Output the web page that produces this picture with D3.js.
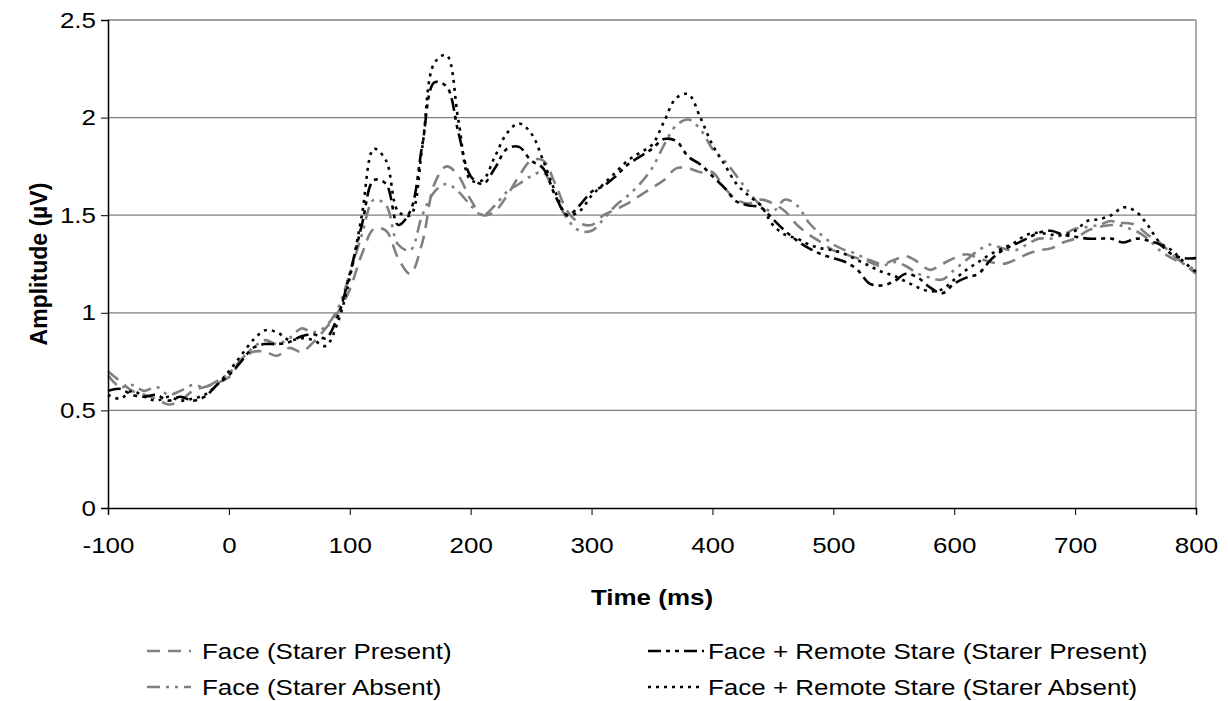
<html>
<script src='https://d3js.org/d3.v7.min.js'></script>
<style>
    body { margin: 0; background: #fff; }
    text { font-family: 'Liberation Sans', Arial, sans-serif; fill: #000; }
    .axis text { font-size: 22px; }
    .axis path, .axis line { stroke: #000; }
</style>

<body onload='init()'>
    <svg width=1228 height=701></svg>
    <script>
        // time in ms, one point every 10 ms
        const times = [-100, -90, -80, -70, -60, -50, -40, -30, -20, -10,
            0, 10, 20, 30, 40, 50, 60, 70, 80, 90,
            100, 110, 120, 130, 140, 150, 160, 170, 180, 190,
            200, 210, 220, 230, 240, 250, 260, 270, 280, 290,
            300, 310, 320, 330, 340, 350, 360, 370, 380, 390,
            400, 410, 420, 430, 440, 450, 460, 470, 480, 490,
            500, 510, 520, 530, 540, 550, 560, 570, 580, 590,
            600, 610, 620, 630, 640, 650, 660, 670, 680, 690,
            700, 710, 720, 730, 740, 750, 760, 770, 780, 790, 800];

        const facePresent = [0.70, 0.65, 0.60, 0.58, 0.56, 0.53, 0.55, 0.60, 0.62, 0.64,
            0.67, 0.75, 0.80, 0.80, 0.78, 0.82, 0.80, 0.85, 0.92, 1.00,
            1.12, 1.30, 1.43, 1.42, 1.28, 1.20, 1.36, 1.66, 1.75, 1.70,
            1.58, 1.50, 1.52, 1.60, 1.70, 1.78, 1.78, 1.66, 1.52, 1.46,
            1.45, 1.50, 1.53, 1.56, 1.60, 1.64, 1.68, 1.74, 1.74, 1.72,
            1.72, 1.64, 1.58, 1.56, 1.58, 1.56, 1.52, 1.45, 1.40, 1.36,
            1.32, 1.30, 1.28, 1.27, 1.25, 1.27, 1.29, 1.26, 1.22, 1.25,
            1.28, 1.30, 1.28, 1.26, 1.25, 1.27, 1.30, 1.32, 1.33, 1.36,
            1.38, 1.42, 1.44, 1.45, 1.46, 1.45, 1.40, 1.36, 1.30, 1.25, 1.20];

        const faceAbsent = [0.68, 0.62, 0.63, 0.60, 0.62, 0.58, 0.60, 0.63, 0.62, 0.65,
            0.69, 0.76, 0.82, 0.86, 0.84, 0.87, 0.92, 0.90, 0.93, 1.02,
            1.20, 1.40, 1.58, 1.55, 1.35, 1.32, 1.50, 1.62, 1.66, 1.62,
            1.55, 1.50, 1.55, 1.62, 1.66, 1.70, 1.72, 1.60, 1.48, 1.42,
            1.42, 1.48, 1.55, 1.60, 1.66, 1.74, 1.86, 1.96, 1.99, 1.94,
            1.84, 1.78, 1.70, 1.62, 1.55, 1.52, 1.58, 1.55, 1.46, 1.40,
            1.35, 1.32, 1.30, 1.26, 1.24, 1.26, 1.24, 1.20, 1.18, 1.17,
            1.22, 1.27, 1.32, 1.35, 1.33, 1.32, 1.35, 1.38, 1.38, 1.40,
            1.43, 1.44, 1.45, 1.47, 1.44, 1.42, 1.38, 1.32, 1.28, 1.25, 1.22];

        const remotePresent = [0.60, 0.61, 0.58, 0.57, 0.58, 0.55, 0.57, 0.55, 0.57, 0.63,
            0.68, 0.75, 0.82, 0.84, 0.84, 0.85, 0.88, 0.89, 0.87, 0.98,
            1.20, 1.45, 1.68, 1.66, 1.45, 1.52, 1.86, 2.18, 2.16, 1.92,
            1.70, 1.66, 1.74, 1.84, 1.85, 1.78, 1.74, 1.60, 1.50, 1.55,
            1.62, 1.65, 1.70, 1.76, 1.80, 1.84, 1.89, 1.88, 1.80, 1.76,
            1.70, 1.64, 1.57, 1.55, 1.54, 1.48, 1.42, 1.37, 1.33, 1.30,
            1.28, 1.26, 1.22, 1.15, 1.14, 1.16, 1.20, 1.18, 1.13, 1.10,
            1.15, 1.18, 1.20, 1.27, 1.32, 1.35, 1.38, 1.41, 1.42, 1.40,
            1.39, 1.38, 1.38, 1.38, 1.36, 1.38, 1.37, 1.35, 1.30, 1.28, 1.28];

        const remoteAbsent = [0.58, 0.56, 0.60, 0.57, 0.55, 0.57, 0.55, 0.56, 0.58, 0.63,
            0.70, 0.78, 0.86, 0.91, 0.90, 0.86, 0.87, 0.86, 0.83, 0.95,
            1.18, 1.50, 1.84, 1.78, 1.52, 1.50, 1.85, 2.28, 2.32, 1.98,
            1.68, 1.68, 1.80, 1.92, 1.97, 1.92, 1.78, 1.62, 1.50, 1.52,
            1.60, 1.66, 1.72, 1.78, 1.82, 1.86, 1.98, 2.10, 2.12, 2.00,
            1.86, 1.76, 1.66, 1.60, 1.55, 1.45, 1.40, 1.38, 1.35, 1.33,
            1.32, 1.30, 1.27, 1.24, 1.21, 1.19, 1.16, 1.13, 1.11, 1.12,
            1.17, 1.22, 1.26, 1.30, 1.33, 1.36, 1.40, 1.41, 1.40, 1.40,
            1.42, 1.47, 1.48, 1.50, 1.54, 1.52, 1.45, 1.36, 1.32, 1.26, 1.21];

        const seriesNames = ['Face (Starer Present)', 'Face (Starer Absent)',
            'Face + Remote Stare (Starer Present)', 'Face + Remote Stare (Starer Absent)'];
        const xTicks = [-100, 0, 100, 200, 300, 400, 500, 600, 700, 800];
        const yTicks = [0, 0.5, 1, 1.5, 2, 2.5];

        function init() {
            const svg = d3.select('svg');
            const left = 108, right = 1196, top = 20, bottom = 508;

            const x = d3.scaleLinear().domain([-100, 800]).range([left, right]);
            const y = d3.scaleLinear().domain([0, 2.5]).range([bottom, top]);

            // gridlines
            svg.append('g')
                .selectAll('line')
                .data(yTicks.filter(d => d > 0))
                .enter()
                .append('line')
                .attr('x1', left).attr('x2', right)
                .attr('y1', d => y(d)).attr('y2', d => y(d))
                .attr('stroke', '#808080').attr('stroke-width', 1.3);
            // right border of plot area
            svg.append('line')
                .attr('x1', right).attr('x2', right)
                .attr('y1', top).attr('y2', bottom)
                .attr('stroke', '#808080').attr('stroke-width', 1.3);

            const styles = [
                { color: '#808080', dash: '13,8' },
                { color: '#808080', dash: '13,6,3,6,3,6' },
                { color: '#000', dash: '13,5,4,5,4,5' },
                { color: '#000', dash: '3,5' }
            ];
            const series = [facePresent, faceAbsent, remotePresent, remoteAbsent];

            const line = d3.line()
                .x((d, i) => x(times[i]))
                .y(d => y(d))
                .curve(d3.curveCatmullRom);

            svg.append('g')
                .selectAll('path')
                .data(series)
                .enter()
                .append('path')
                .attr('d', d => line(d))
                .attr('fill', 'none')
                .attr('stroke', (d, i) => styles[i].color)
                .attr('stroke-width', 2.6)
                .attr('stroke-dasharray', (d, i) => styles[i].dash);

            // axes
            svg.append('g')
                .attr('class', 'axis')
                .attr('transform', 'translate(' + left + ',0)')
                .call(d3.axisLeft(y).tickValues(yTicks).tickFormat(d => String(d)).tickSizeOuter(0).tickSize(7).tickPadding(5))
                .call(g => g.select('.domain').attr('stroke-width', 1.5));
            svg.append('g')
                .attr('class', 'axis')
                .attr('transform', 'translate(0,' + bottom + ')')
                .call(d3.axisBottom(x).tickValues(xTicks).tickFormat(d => String(d)).tickSizeOuter(0).tickSize(7).tickPadding(22))
                .call(g => g.select('.domain').attr('stroke-width', 1.5));

            // axis titles
            svg.append('text')
                .attr('class', 'wide')
                .attr('x', (left + right) / 2).attr('y', 605)
                .attr('text-anchor', 'middle')
                .style('font-size', '22px').style('font-weight', 'bold')
                .text('Time (ms)');
            svg.append('text')
                .attr('transform', 'translate(47,' + ((top + bottom) / 2) + ') rotate(-90)')
                .attr('text-anchor', 'middle')
                .style('font-size', '23px').style('font-weight', 'bold')
                .text('Amplitude (µV)');

            // legend
            const legendPos = [[147, 651], [147, 687], [648, 651], [648, 687]];
            const legend = svg.append('g')
                .selectAll('g')
                .data(seriesNames)
                .enter()
                .append('g')
                .attr('transform', (d, i) => 'translate(' + legendPos[i][0] + ',' + legendPos[i][1] + ')');
            legend.append('line')
                .attr('x1', 0).attr('x2', (d, i) => i < 2 ? 44 : 56)
                .attr('y1', 0).attr('y2', 0)
                .attr('stroke', (d, i) => styles[i].color)
                .attr('stroke-width', 2.6)
                .attr('stroke-dasharray', (d, i) => styles[i].dash);
            legend.append('text')
                .attr('class', 'wide')
                .attr('x', (d, i) => i < 2 ? 55 : 60)
                .attr('y', 8)
                .style('font-size', '22px')
                .text(d => d);

            // the reference lettering is a little wider than Arial
            svg.selectAll('.axis text, text.wide').each(function () {
                const w = this.getComputedTextLength();
                d3.select(this).attr('textLength', w * 1.18).attr('lengthAdjust', 'spacingAndGlyphs');
            });
        }
    </script>
</body>

</html>
